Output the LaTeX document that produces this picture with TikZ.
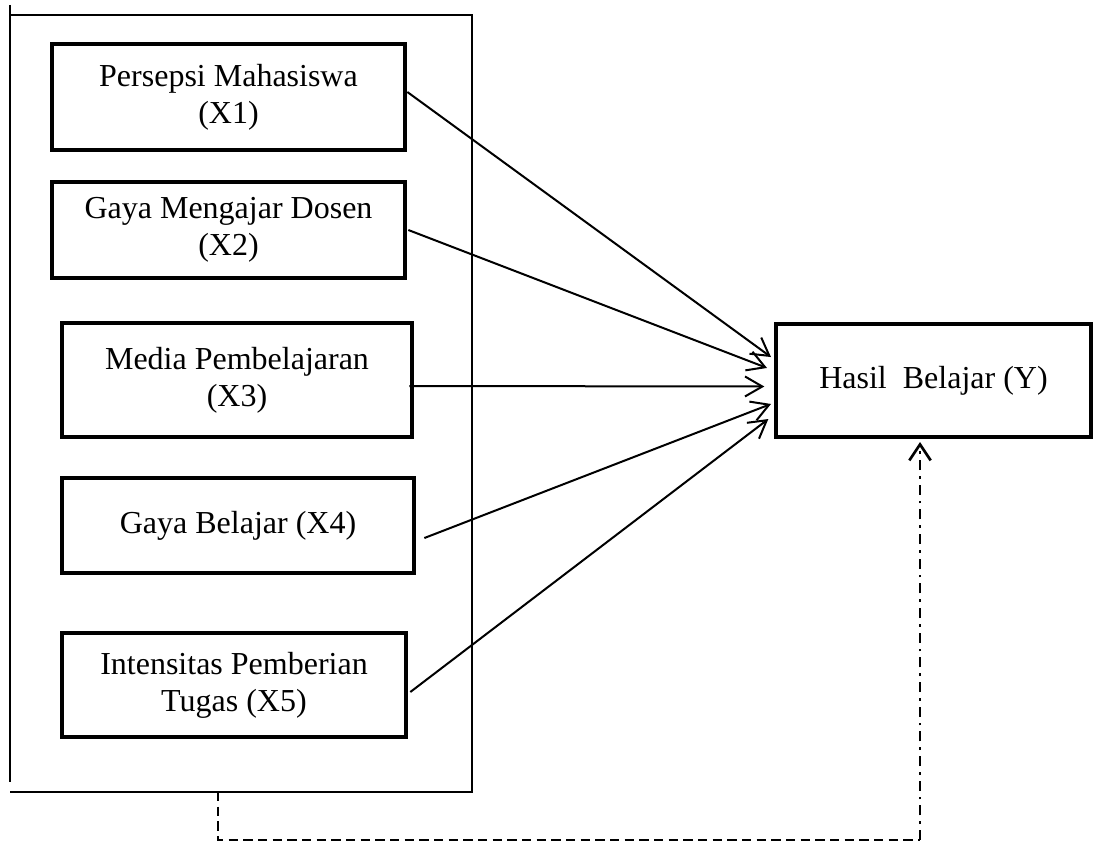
\documentclass[tikz,border=0pt]{standalone}
\usepackage{fontspec}
\setmainfont{Liberation Serif}
\usetikzlibrary{arrows.meta}

\begin{document}
\begin{tikzpicture}[x=0.75pt, y=-0.75pt,
    var/.style={draw, line width=3.5pt, align=center, inner sep=0pt, font=\fontsize{24}{27.6}\selectfont},
    link/.style={line width=1.5pt, -{Straight Barb[length=13pt, width=15pt]}}]
    \useasboundingbox(0,0)rectangle(1093,842);
    \draw[line width=1.1pt](10,5)--(10,782);
    \draw[line width=1.1pt](10,15)--(472,15)--(472,792)--(10,792);
    \node[var, minimum width=264.75pt, minimum height=79.5pt](x1) at (228.5,97){Persepsi Mahasiswa\\(X1)};
    \node[var, minimum width=264.75pt, minimum height=72pt](x2) at (228.5,230){Gaya Mengajar Dosen\\(X2)};
    \node[var, minimum width=262.5pt, minimum height=85.5pt](x3) at (237,380){Media Pembelajaran\\(X3)};
    \node[var, minimum width=264pt, minimum height=71.25pt](x4) at (238,525.5){Gaya Belajar (X4)};
    \node[var, minimum width=258pt, minimum height=78pt](x5) at (234,685){Intensitas Pemberian\\Tugas (X5)};
    \node[var, minimum width=236.25pt, minimum height=84.75pt](y) at (933.5,380.5){Hasil\ \ Belajar (Y)};
    \draw[link]([yshift=3.75pt]x1.east)--([xshift=-2pt, yshift=17.6pt]y.west);
    \draw[link]([xshift=0.75pt]x2.east)--([xshift=-5pt, yshift=9.4pt]y.west);
    \draw[link]([xshift=-3.75pt, yshift=-4.5pt]x3.east)--([xshift=-7pt, yshift=-4.5pt]y.west);
    \draw[link]([xshift=6pt, yshift=-9.4pt]x4.east)--([xshift=-2pt, yshift=-17.6pt]y.west);
    \draw[link]([xshift=1.5pt, yshift=-5.25pt]x5.east)--([xshift=-4pt, yshift=-28.9pt]y.west);
    \coordinate(drop) at (218,792);
    \coordinate(bend) at (920,840);
    \draw[line width=0.9pt, dash pattern=on 7pt off 4pt](drop)|-(bend);
    \draw[line width=2pt, dash pattern=on 7.5pt off 4.5pt on 2pt off 4.5pt, -{Straight Barb[length=12pt, width=16pt]}, shorten >=2pt](bend)--(bend|-y.south);
\end{tikzpicture}
\end{document}
